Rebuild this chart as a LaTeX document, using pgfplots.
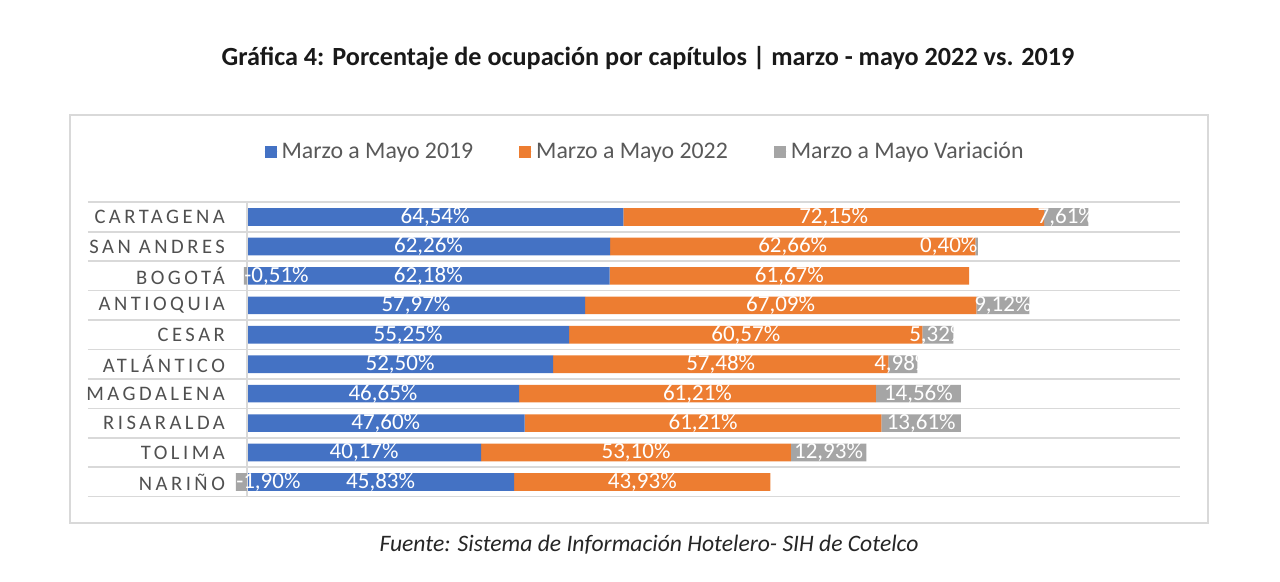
\documentclass[border=0pt]{standalone}
\usepackage{fontspec}
\setmainfont{Carlito}
\newfontfamily\spaced[LetterSpace=17]{Carlito}
\usepackage{pgfplots}
\usepackage{pgfplotstable}
\pgfplotsset{compat=1.18}

\definecolor{c19}{HTML}{4472C4}
\definecolor{c22}{HTML}{ED7D31}
\definecolor{cvar}{HTML}{A5A5A5}
\definecolor{txt}{HTML}{595959}
\definecolor{lin}{HTML}{D9D9D9}

% ocupacion marzo-mayo: 2019, 2022, variacion positiva
\pgfplotstableread{
idx a b vp
0 64.54 72.15 7.61
1 62.26 62.66 0.40
2 62.18 61.67 0
3 57.97 67.09 9.12
4 55.25 60.57 5.32
5 52.50 57.48 4.98
6 46.65 61.21 14.56
7 47.60 61.21 13.61
8 40.17 53.10 12.93
9 45.83 43.93 0
}\datos
% variacion negativa
\pgfplotstableread{
idx vn
2 -0.51
9 -1.90
}\negativos

\pgfplotsset{
  base/.style={
    at={(117.65pt,42.65pt)}, anchor=south west,
    scale only axis, width=472.35pt, height=147.2pt,
    xmin=-2, xmax=160, ymin=-0.5, ymax=9.5, y dir=reverse,
    clip=false,
    /pgf/number format/.cd, fixed, fixed zerofill, precision=2, use comma, assume math mode=true,
  },
  lbl/.style={only marks, mark=none,
    nodes near coords={\pgfmathprintnumber{\pgfplotspointmeta}\%},
    every node near coord/.style={anchor=center, inner sep=0pt, text=white,
      font=\fontsize{11.5}{12}\selectfont}},
}

\begin{document}
\begin{tikzpicture}
\useasboundingbox (0,0) rectangle (640pt,291pt);
\fill[white] (0,0) rectangle (640pt,291pt);
\draw[lin, line width=1pt] (35pt,29.5pt) rectangle (604pt,233.5pt);

\begin{axis}[base,
  axis line style={draw=none}, tick style={draw=none},
  xtick=\empty,
  ytick={0,...,9},
  yticklabels={CARTAGENA,SAN ANDRES,BOGOTÁ,ANTIOQUIA,CESAR,ATLÁNTICO,MAGDALENA,RISARALDA,TOLIMA,NARIÑO},
  yticklabel style={font=\spaced\fontsize{10.3}{12}\selectfont, text=txt!90!black, inner sep=0pt, xshift=-5pt},
  xbar stacked, bar width=8.8pt,
  legend columns=3,
  legend style={at={(axis description cs:0.4348,1.171)}, anchor=center,
    draw=none, fill=none, font=\fontsize{11.9}{13}\selectfont, text=txt,
    /tikz/every even column/.append style={column sep=21pt}},
  legend image code/.code={\draw[#1, draw=none] (0pt,-3pt) rectangle (6pt,3pt);
    \path (0pt,0pt) -- (6.5pt,0pt);},
]
\draw[lin, line width=0.8pt] (axis cs:0,-0.5) -- (axis cs:0,9.5);
\pgfplotsinvokeforeach{-0.5,0.5,1.5,2.5,3.5,4.5,5.5,6.5,7.5,8.5,9.5}{
  \draw[lin, line width=0.8pt] ([xshift=-73.65pt]axis cs:-2,#1) -- (axis cs:160,#1);}
\addplot[fill=c19, draw=none] table[x=a, y=idx]{\datos};
\addplot[fill=c22, draw=none] table[x=b, y=idx]{\datos};
\addplot[fill=cvar, draw=none] table[x=vp, y=idx]{\datos};
\legend{Marzo a Mayo 2019, Marzo a Mayo 2022, Marzo a Mayo Variación}
\end{axis}

\begin{axis}[base, hide axis]
\addplot[xbar, bar width=8.8pt, fill=cvar, draw=none] table[x=vn, y=idx]{\negativos};
\addplot[lbl, point meta=\thisrow{a}] table[x expr=\thisrow{a}/2, y=idx]{\datos};
\addplot[lbl, point meta=\thisrow{b}] table[x expr=\thisrow{a}+\thisrow{b}/2, y=idx]{\datos};
\addplot[lbl, point meta=\thisrow{vp},
  skip coords between index={1}{3}, skip coords between index={9}{10}]
  table[x expr=\thisrow{a}+\thisrow{b}+\thisrow{vp}/2, y=idx]{\datos};
% San Andres: etiqueta pegada al final de la barra
\addplot[lbl, point meta=\thisrow{vp}, every node near coord/.append style={anchor=east},
  skip coords between index={0}{1}, skip coords between index={2}{10}]
  table[x expr=\thisrow{a}+\thisrow{b}+\thisrow{vp}, y=idx]{\datos};
\addplot[lbl, point meta=\thisrow{vn}, every node near coord/.append style={anchor=west}]
  table[x=vn, y=idx]{\negativos};
\end{axis}

\node[font=\bfseries\fontsize{13.1}{15}\selectfont, text=black!90] at (324pt,262pt)
  {Gráfica 4: Porcentaje de ocupación por capítulos | marzo - mayo 2022 vs. 2019};
\node[font=\itshape\fontsize{11.8}{14}\selectfont, text=black!85] at (324.5pt,18.5pt)
  {Fuente: Sistema de Información Hotelero- SIH de Cotelco};
\end{tikzpicture}
\end{document}
